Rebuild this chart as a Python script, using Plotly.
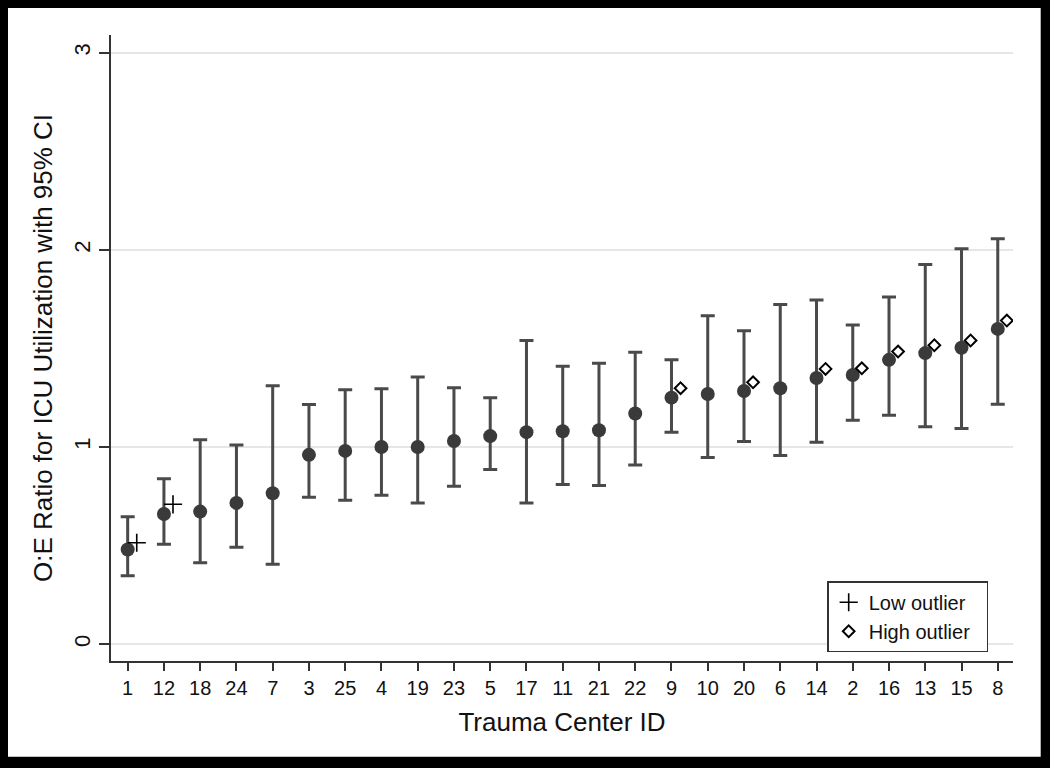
import plotly.graph_objects as go

center_ids = ["1", "12", "18", "24", "7", "3", "25", "4", "19", "23", "5", "17", "11",
              "21", "22", "9", "10", "20", "6", "14", "2", "16", "13", "15", "8"]
oe_ratio = [0.48, 0.66, 0.672, 0.716, 0.765, 0.96, 0.98, 1.0, 1.0, 1.03, 1.055, 1.075, 1.08,
            1.085, 1.17, 1.25, 1.269, 1.284, 1.298, 1.35, 1.365, 1.442, 1.476, 1.503, 1.599]
ci_upper = [0.646, 0.839, 1.036, 1.01, 1.31, 1.215, 1.29, 1.295, 1.355, 1.30, 1.25, 1.54, 1.41,
            1.425, 1.48, 1.442, 1.665, 1.589, 1.723, 1.745, 1.619, 1.761, 1.926, 2.005, 2.056]
ci_lower = [0.347, 0.506, 0.413, 0.491, 0.405, 0.745, 0.73, 0.755, 0.715, 0.80, 0.885, 0.715, 0.81,
            0.805, 0.909, 1.075, 0.946, 1.027, 0.956, 1.024, 1.135, 1.161, 1.103, 1.093, 1.217]
low_outlier_ids = ["1", "12"]
low_outlier_vals = [0.514, 0.709]
high_outlier_ids = ["9", "20", "14", "2", "16", "13", "15", "8"]
high_outlier_vals = [1.298, 1.328, 1.396, 1.399, 1.484, 1.516, 1.54, 1.641]
y_ticks = [0, 1, 2, 3]

pos = list(range(len(center_ids)))
idx = {c: i for i, c in enumerate(center_ids)}
offset = 0.25

fig = go.Figure()
fig.add_trace(go.Scatter(
    x=pos, y=oe_ratio, mode="markers",
    marker=dict(size=14, color="#3a3a3a"),
    error_y=dict(type="data", symmetric=False,
                 array=[u - v for u, v in zip(ci_upper, oe_ratio)],
                 arrayminus=[v - l for v, l in zip(oe_ratio, ci_lower)],
                 color="#4a4a4a", thickness=3, width=7),
    showlegend=False))
fig.add_trace(go.Scatter(
    x=[idx[c] + offset for c in low_outlier_ids], y=low_outlier_vals, mode="markers",
    name="Low outlier",
    marker=dict(symbol="cross-thin", size=13, color="black", line=dict(width=1.6, color="black"))))
fig.add_trace(go.Scatter(
    x=[idx[c] + offset for c in high_outlier_ids], y=high_outlier_vals, mode="markers",
    name="High outlier  ",
    marker=dict(symbol="diamond-open", size=9, color="black", line=dict(width=2, color="black"))))

fig.add_hline(y=1, line=dict(color="#888888", width=2), layer="below")

fig.update_layout(
    width=1050, height=768,
    margin=dict(l=111, r=37, t=35, b=107),
    paper_bgcolor="white", plot_bgcolor="white",
    font=dict(family="Liberation Sans, Arial, sans-serif", color="#111111"),
    legend=dict(x=0.794, y=0.014, xanchor="left", yanchor="bottom",
                bordercolor="#333333", borderwidth=1.5, bgcolor="white",
                font=dict(size=20), itemsizing="trace", tracegroupgap=2),
    xaxis=dict(range=[-0.46, 24.42], tickvals=pos, ticktext=center_ids,
               showgrid=False, zeroline=False, showline=True, linecolor="#333333", linewidth=2,
               ticks="outside", ticklen=8, tickwidth=2, tickcolor="#333333",
               tickfont=dict(size=20),
               title=dict(text="Trauma Center ID", font=dict(size=26), standoff=15)),
    yaxis=dict(range=[-0.086, 3.09], tickvals=y_ticks, ticktext=[str(t) for t in y_ticks],
               tickangle=-90, showgrid=True, gridcolor="#e6e6e6", gridwidth=2,
               zeroline=False, showline=True, linecolor="#333333", linewidth=2,
               ticks="outside", ticklen=10, tickwidth=2, tickcolor="#333333",
               tickfont=dict(size=22),
               title=dict(text="O:E Ratio for ICU Utilization with 95% CI", font=dict(size=26), standoff=10)),
)

# black frame around the whole picture
frame = dict(type="rect", xref="paper", yref="paper", fillcolor="black", line=dict(width=0), layer="above")
W, H = 902.0, 626.0
def px(xp):
    return (xp - 111) / W
def py(yp):
    return (661 - yp) / H
fig.add_shape(**frame, x0=px(0), x1=px(8), y0=py(768), y1=py(0))
fig.add_shape(**frame, x0=px(1040.7), x1=px(1050), y0=py(768), y1=py(0))
fig.add_shape(**frame, x0=px(0), x1=px(1050), y0=py(8), y1=py(0))
fig.add_shape(**frame, x0=px(0), x1=px(1050), y0=py(768), y1=py(756.7))

fig.write_html("out.html", config={"displayModeBar": False},
               post_script="document.body.style.margin='0';document.body.style.overflow='hidden';")
